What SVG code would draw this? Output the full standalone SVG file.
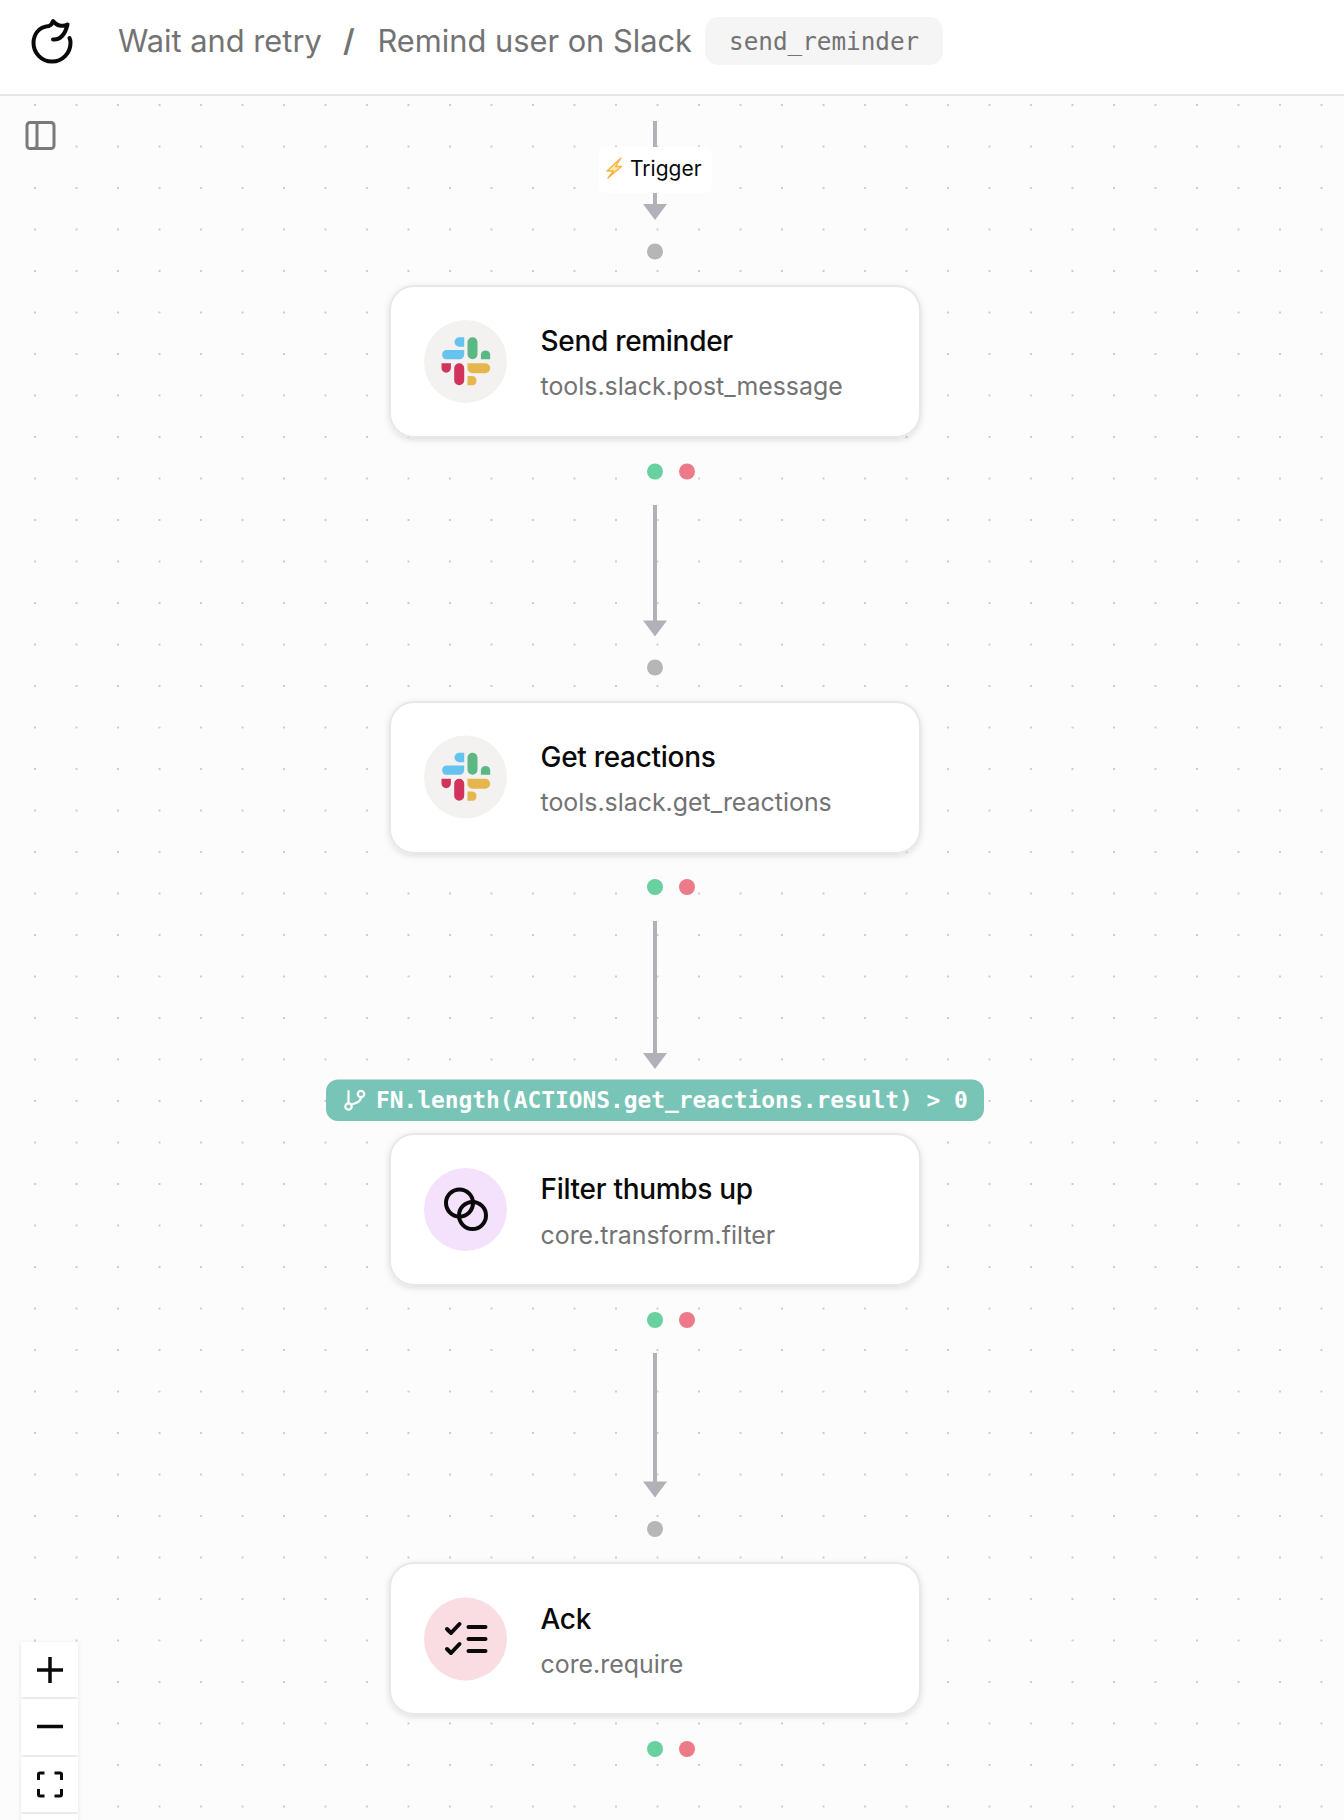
<svg xmlns="http://www.w3.org/2000/svg" width="1344" height="1820" viewBox="0 0 1344 1820">
<style>
.ui{font-family:Inter,"Liberation Sans",sans-serif}
.crumb{font-size:30.8px;fill:#737373;font-family:Inter,"Liberation Sans",sans-serif}
.mono{font-family:"DejaVu Sans Mono","Liberation Mono",monospace}
.card{fill:#fff;stroke:#e8e8e8;stroke-width:2;filter:url(#shadow)}
.title{font-size:28px;font-weight:500;letter-spacing:-.3px;fill:#0a0a0a;font-family:Inter,"Liberation Sans",sans-serif}
.sub{font-size:24.9px;fill:#737373;font-family:Inter,"Liberation Sans",sans-serif}
.wire{stroke:#b1b1b7;stroke-width:4;fill:none}
.tip{fill:#b1b1b7}
.port{fill:#b6b6b8}
.ok{fill:#69d19f}
.err{fill:#ec7a88}
.ctl{fill:#fff;filter:url(#soft)}
.ink{fill:none;stroke:#0a0a0a;stroke-width:4;stroke-linecap:round;stroke-linejoin:round}
</style>
<defs>
<pattern id="dots" x="35" y="105" width="41.5" height="41.5" patternUnits="userSpaceOnUse"><circle cx="0" cy="0" r="0.8" fill="#91919a"/><circle cx="41.5" cy="0" r="0.8" fill="#91919a"/><circle cx="0" cy="41.5" r="0.8" fill="#91919a"/><circle cx="41.5" cy="41.5" r="0.8" fill="#91919a"/></pattern>
<filter id="shadow" x="-5%" y="-10%" width="110%" height="125%"><feDropShadow dx="0" dy="2" stdDeviation="3" flood-color="#000" flood-opacity="0.12"/></filter>
<filter id="soft" x="-20%" y="-20%" width="140%" height="140%"><feDropShadow dx="0" dy="1" stdDeviation="2" flood-color="#000" flood-opacity="0.1"/></filter>
<g id="slack">
<path fill="#66c3ee" d="M-1.3-24H-6.3A4.7 4.7 0 0 0-6.3-14.6H-1.3ZM-1.3-11.3H-19.3A4.7 4.7 0 0 0-19.3-2H-6A4.7 4.7 0 0 0-1.3-6.7Z"/>
<path fill="#5bb784" d="M7-24A5 5 0 0 0 2-19V-7A5 5 0 0 0 12-7V-19A5 5 0 0 0 7-24ZM15.4-2H24.7V-6.7A4.7 4.7 0 0 0 15.4-6.7Z"/>
<path fill="#d1335d" d="M-24 2V6.7A4.7 4.7 0 0 0-14.6 6.7V2ZM-6.3 2A5 5 0 0 0-11.3 7V19A5 5 0 0 0-1.3 19V7A5 5 0 0 0-6.3 2Z"/>
<path fill="#e5b64d" d="M2 2V7A5 5 0 0 0 7 12H19.7A5 5 0 0 0 19.7 2ZM2 14.7V24H7A4.7 4.7 0 0 0 7 14.7Z"/>
</g>
</defs>
<rect width="1344" height="1820" fill="#fcfcfc"/>
<rect y="95" width="1344" height="1725" fill="url(#dots)"/>
<g id="header">
<rect width="1344" height="95" fill="#fff"/>
<rect y="94" width="1344" height="2" fill="#e5e5e5"/>
<path d="M53 39.5C60 40 65 35 67.5 24.5C65 26 62 26 59.5 25.5C56.5 25 54.5 23 53 21C52.5 23 51.5 25 49 26C38 27 33.5 35 33.5 43A18.5 18.5 0 0 0 70.5 43C70.5 41 70 39 69.5 38" fill="none" stroke="#0a0a0a" stroke-width="4" stroke-linecap="round" stroke-linejoin="round"/>
<text class="crumb" x="118" y="52">Wait and retry</text>
<text class="crumb" x="343" y="52" font-weight="600">/</text>
<text class="crumb" x="377.500" y="52">Remind user on Slack</text>
<rect x="705" y="17" width="238" height="48" rx="14" fill="#f5f5f5"/>
<text class="mono" x="729" y="50" font-size="24.3" fill="#737373">send_reminder</text>
</g>
<g id="panel-toggle"><rect x="27" y="122.500" width="27" height="26" rx="3" fill="none" stroke="#7a7a7a" stroke-width="3"/><path d="M37 123V148" stroke="#7a7a7a" stroke-width="3"/></g>
<g id="connectors">
<path class="wire" d="M655 121V147"/>
<path class="wire" d="M655 193V205"/>
<path class="tip" d="M643 204H667L655 220Z"/>
<path class="wire" d="M655 505V622"/>
<path class="tip" d="M643 620.500H667L655 636.500Z"/>
<path class="wire" d="M655 921V1055"/>
<path class="tip" d="M643 1053H667L655 1069Z"/>
<path class="wire" d="M655 1353V1483"/>
<path class="tip" d="M643 1481.500H667L655 1497.500Z"/>
</g>
<g id="trigger">
<rect x="599" y="147" width="112.500" height="46" rx="6" fill="#fff"/>
<path d="M621 158L607 171H613.500L608 178L621.500 166.500H615.500L621 158Z" fill="#fde9a8" stroke="#f5b142" stroke-width="1.300" stroke-linejoin="round"/>
<text class="ui" x="630" y="176" font-size="21" fill="#0a0a0a">Trigger</text>
</g>
<circle class="port" cx="655" cy="251.500" r="8"/>
<g id="send-reminder">
<rect class="card" x="390" y="286" width="530" height="151" rx="24"/>
<circle cx="465.500" cy="361.500" r="41.500" fill="#f3f2f1"/>
<use href="#slack" x="465.500" y="361.300"/>
<text class="title" x="540.500" y="351">Send reminder</text>
<text class="sub" x="540.500" y="395">tools.slack.post_message</text>
<circle class="ok" cx="655" cy="471.500" r="8"/><circle class="err" cx="687" cy="471.500" r="8"/>
</g>
<circle class="port" cx="655" cy="667.500" r="8"/>
<g id="get-reactions">
<rect class="card" x="390" y="702" width="530" height="151" rx="24"/>
<circle cx="465.500" cy="777" r="41.500" fill="#f3f2f1"/>
<use href="#slack" x="465.500" y="776.800"/>
<text class="title" x="540.500" y="766.500">Get reactions</text>
<text class="sub" x="540.500" y="810.500">tools.slack.get_reactions</text>
<circle class="ok" cx="655" cy="887" r="8"/><circle class="err" cx="687" cy="887" r="8"/>
</g>
<g id="condition">
<rect x="326" y="1079.500" width="658" height="41.500" rx="12" fill="#78c4b6"/>
<g fill="none" stroke="#fff" stroke-width="2.200" stroke-linecap="round" stroke-linejoin="round"><path d="M348.500 1091V1103"/><circle cx="348.500" cy="1106.500" r="3.200"/><circle cx="361" cy="1094" r="3.200"/><path d="M361 1097.500C361 1102 356 1103 351.500 1104.500"/></g>
<text class="mono" x="376" y="1108" font-size="22.860" font-weight="700" fill="#fff">FN.length(ACTIONS.get_reactions.result) &gt; 0</text>
</g>
<g id="filter-thumbs-up">
<rect class="card" x="390" y="1134" width="530" height="151" rx="24"/>
<circle cx="465.500" cy="1209.500" r="41.500" fill="#f4e1fb"/>
<circle class="ink" cx="459.500" cy="1203" r="13.500"/><circle class="ink" cx="472.500" cy="1215.500" r="13.500"/>
<text class="title" x="540.500" y="1199">Filter thumbs up</text>
<text class="sub" x="540.500" y="1243.500">core.transform.filter</text>
<circle class="ok" cx="655" cy="1320" r="8"/><circle class="err" cx="687" cy="1320" r="8"/>
</g>
<circle class="port" cx="655" cy="1529" r="8"/>
<g id="ack">
<rect class="card" x="390" y="1563" width="530" height="151" rx="24"/>
<circle cx="465.500" cy="1639" r="41.500" fill="#fadde2"/>
<path class="ink" stroke-width="4.500" d="M447 1629L451 1633L459.500 1624M447 1649L451 1653L459.500 1644M468.500 1627H485.500M468.500 1639H485.500M468.500 1651H485.500"/>
<text class="title" x="540.500" y="1628.500">Ack</text>
<text class="sub" x="540.500" y="1672.500">core.require</text>
<circle class="ok" cx="655" cy="1749" r="8"/><circle class="err" cx="687" cy="1749" r="8"/>
</g>
<g id="controls">
<rect class="ctl" x="21" y="1642" width="57" height="55"/>
<rect class="ctl" x="21" y="1699" width="57" height="56"/>
<rect class="ctl" x="21" y="1757" width="57" height="55"/>
<rect class="ctl" x="21" y="1814" width="57" height="10"/>
<path d="M37 1670H63M50 1657V1683M37 1726.500H63" fill="none" stroke="#0a0a0a" stroke-width="3.500"/>
<path d="M38.500 1780V1774.500Q38.500 1773 40 1773H44.500M54.500 1773H60Q61.500 1773 61.500 1774.500V1780M61.500 1789V1794.500Q61.500 1796 60 1796H54.500M44.500 1796H40Q38.500 1796 38.500 1794.500V1789" fill="none" stroke="#0a0a0a" stroke-width="3"/>
</g>
</svg>
